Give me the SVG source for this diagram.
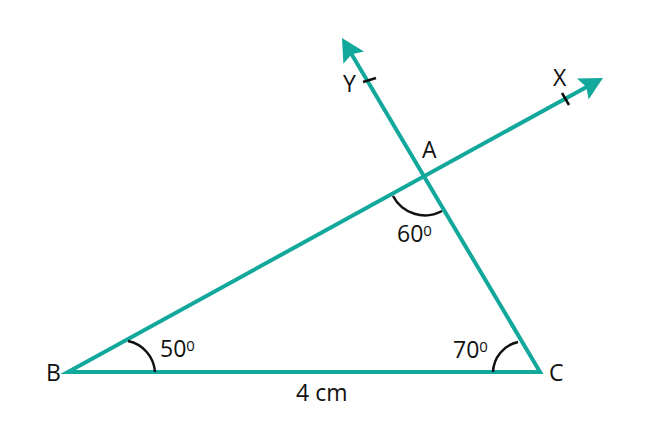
<svg xmlns="http://www.w3.org/2000/svg" width="656" height="432" viewBox="0 0 656 432">
<style>
.ln{fill:none;stroke:#12a89b;stroke-width:4;stroke-linejoin:miter;stroke-miterlimit:10}
.arc{fill:none;stroke:#111;stroke-width:2.5}
.tk{stroke:#111;stroke-width:2.5}
.lb{font-family:"Open Sans","Liberation Sans",sans-serif;font-size:23px;fill:#111}
.sup{font-size:15px}
</style>
<defs>
<marker id="ah" markerUnits="userSpaceOnUse" markerWidth="25" markerHeight="24" viewBox="0 0 25 24" refX="10" refY="12" orient="auto-start-reverse">
<path d="M24,12 L1,0 L5,12 L1,24 Z" fill="#12a89b"/>
</marker>
</defs>
<rect width="656" height="432" fill="#fff"/>
<g id="connectors">
<path class="ln" d="M590.7,84.7 L68,372 L540,372 L349.1,50" marker-start="url(#ah)" marker-end="url(#ah)"/>
<line class="tk" x1="363" y1="82" x2="376" y2="78"/>
<line class="tk" x1="562" y1="93" x2="569" y2="105"/>
</g>
<g id="A">
<path class="arc" d="M393,196 A36,36 0 0 0 442,211"/>
<text class="lb" x="422" y="158">A</text>
<text class="lb" x="397" y="242">60<tspan class="sup" dy="-6">0</tspan></text>
</g>
<g id="B">
<path class="arc" d="M128,341 A34,34 0 0 1 155,372"/>
<text class="lb" x="46" y="381">B</text>
<text class="lb" x="160" y="357">50<tspan class="sup" dy="-6">0</tspan></text>
</g>
<g id="C">
<path class="arc" d="M493,372 A32,32 0 0 1 518,342"/>
<text class="lb" x="549" y="381">C</text>
<text class="lb" x="453" y="358">70<tspan class="sup" dy="-6">0</tspan></text>
</g>
<g id="X"><text class="lb" x="553" y="86">X</text></g>
<g id="Y"><text class="lb" x="343" y="92">Y</text></g>
<g id="BC-label"><text class="lb" x="296" y="401">4 cm</text></g>
</svg>
